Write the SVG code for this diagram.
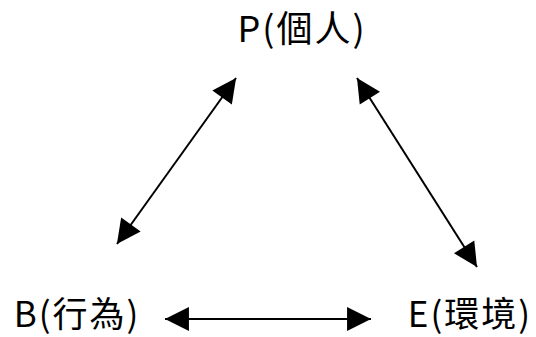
<svg xmlns="http://www.w3.org/2000/svg" width="536" height="337" viewBox="0 0 536 337">
<style>
text{font-family:"Noto Sans CJK TC","Noto Sans CJK SC",sans-serif;font-size:36px;font-weight:400;letter-spacing:2px;fill:#000}
.c line{stroke:#000;stroke-width:2}
</style>
<defs>
<marker id="ah" viewBox="0 0 10 10" refX="10" refY="5" markerWidth="10" markerHeight="10" markerUnits="userSpaceOnUse" orient="auto-start-reverse" overflow="visible">
<path d="M0,0 L10,5 L0,10 z" fill="#000" transform="scale(2.4) translate(-5.8,-2.9)"/>
</marker>
</defs>
<rect width="536" height="337" fill="#fff"/>
<g class="c">
<line x1="236" y1="78" x2="117" y2="244" marker-start="url(#ah)" marker-end="url(#ah)"/>
<line x1="357" y1="78" x2="477" y2="267" marker-start="url(#ah)" marker-end="url(#ah)"/>
<line x1="165" y1="319" x2="371" y2="319" marker-start="url(#ah)" marker-end="url(#ah)"/>
</g>
<g id="P"><text x="302" y="42" text-anchor="middle">P(個人)</text></g>
<g id="B"><text x="77" y="327" text-anchor="middle" style="font-size:35px">B(行為)</text></g>
<g id="E"><text x="470" y="327" text-anchor="middle" style="font-size:35px">E(環境)</text></g>
</svg>
